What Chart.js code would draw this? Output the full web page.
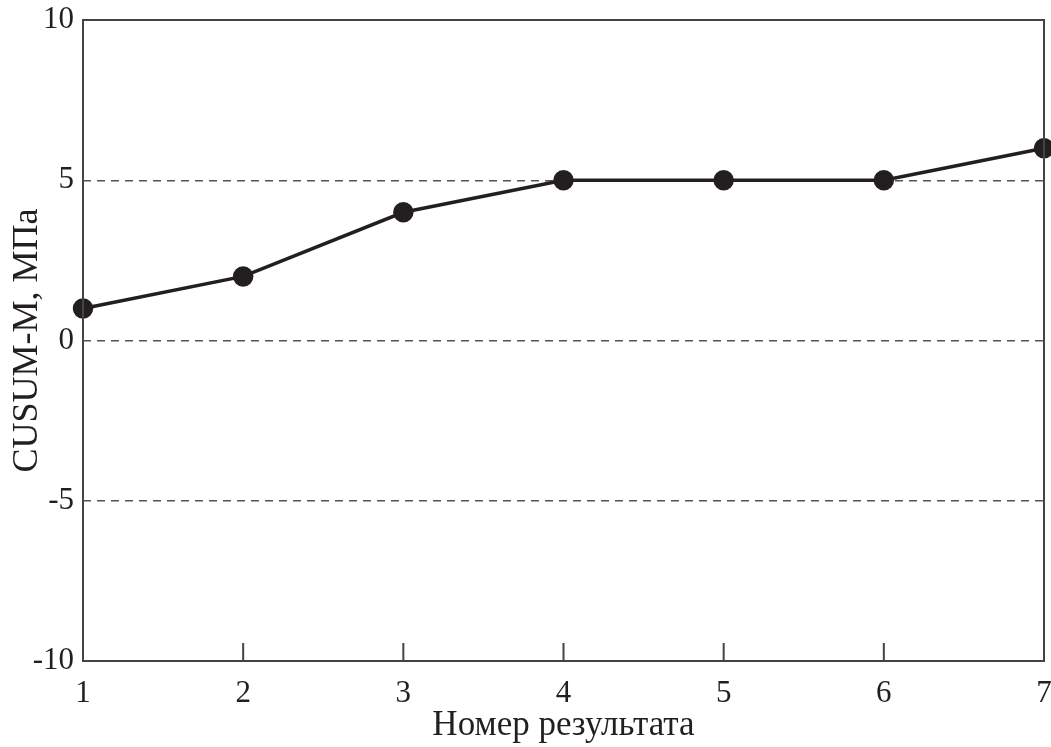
<!DOCTYPE html>
<html lang="ru">
<head>
    <meta charset="UTF-8">
    <title>CUSUM-M</title>
    <script src="https://cdn.jsdelivr.net/npm/chart.js"></script>
    <style>
        html, body { margin: 0; padding: 0; background: #fff; overflow: hidden; }
        #wrap { width: 1051px; height: 747px; }
        canvas { display: block; }
    </style>
</head>
<body>
    <div id="wrap">
        <canvas id="cusumChart" width="1051" height="747"></canvas>
    </div>

    <script>
        const resultNumbers = ['1', '2', '3', '4', '5', '6', '7'];
        const cusumValues = [1, 2, 4, 5, 5, 5, 6];
        const yTicks = [-10, -5, 0, 5, 10];

        const ink = '#231f20';
        const serif = '"Liberation Serif", "Times New Roman", serif';

        // frame around the plot area plus short inward ticks on the x axis
        const framePlugin = {
            id: 'frame',
            afterDraw(chart) {
                const { ctx, chartArea: a, scales } = chart;
                ctx.save();
                ctx.strokeStyle = '#444';
                ctx.lineWidth = 2;
                ctx.strokeRect(a.left, a.top, a.right - a.left, a.bottom - a.top);
                ctx.beginPath();
                for (let i = 1; i < resultNumbers.length - 1; i++) {
                    const x = scales.x.getPixelForValue(i);
                    ctx.moveTo(x, a.bottom);
                    ctx.lineTo(x, a.bottom - 18);
                }
                ctx.stroke();
                ctx.restore();
            }
        };

        // labels may hang over the edges of the plot, no extra room for them
        function noLabelPadding(scale) {
            scale.paddingLeft = 0;
            scale.paddingRight = 0;
            scale.paddingTop = 0;
            scale.paddingBottom = 0;
        }

        const ctx = document.getElementById('cusumChart').getContext('2d');
        new Chart(ctx, {
            type: 'line',
            data: {
                labels: resultNumbers,
                datasets: [{
                    data: cusumValues,
                    borderColor: ink,
                    backgroundColor: ink,
                    borderWidth: 3.5,
                    pointRadius: 8.5,
                    pointHoverRadius: 8.5,
                    tension: 0,
                    clip: false
                }]
            },
            options: {
                responsive: false,
                animation: false,
                layout: {
                    autoPadding: false,
                    padding: { top: 20, right: 7, left: 0, bottom: 0 }
                },
                plugins: {
                    legend: { display: false },
                    tooltip: { enabled: false }
                },
                scales: {
                    x: {
                        offset: false,
                        grid: { display: false },
                        border: { display: false },
                        ticks: {
                            color: ink,
                            padding: 6,
                            maxRotation: 0,
                            font: { family: serif, size: 31 }
                        },
                        title: {
                            display: true,
                            text: 'Номер результата',
                            color: ink,
                            padding: { top: 4, bottom: 0 },
                            font: { family: serif, size: 35 }
                        },
                        afterFit(scale) {
                            noLabelPadding(scale);
                            scale.height = 86;
                        }
                    },
                    y: {
                        min: -10,
                        max: 10,
                        afterBuildTicks(scale) {
                            scale.ticks = yTicks.map(v => ({ value: v }));
                        },
                        grid: {
                            drawTicks: false,
                            lineWidth: 1.5,
                            color: c => (Math.abs(c.tick.value) === 10 ? 'rgba(0,0,0,0)' : '#555')
                        },
                        border: { display: false, dash: [8, 6] },
                        ticks: {
                            color: ink,
                            padding: 9,
                            font: { family: serif, size: 31 }
                        },
                        title: {
                            display: true,
                            text: 'CUSUM-M, МПа',
                            color: ink,
                            padding: { top: 6, bottom: 0 },
                            font: { family: serif, size: 36 }
                        },
                        afterFit(scale) {
                            noLabelPadding(scale);
                            scale.width = 83;
                        }
                    }
                }
            },
            plugins: [framePlugin]
        });
    </script>
</body>
</html>
